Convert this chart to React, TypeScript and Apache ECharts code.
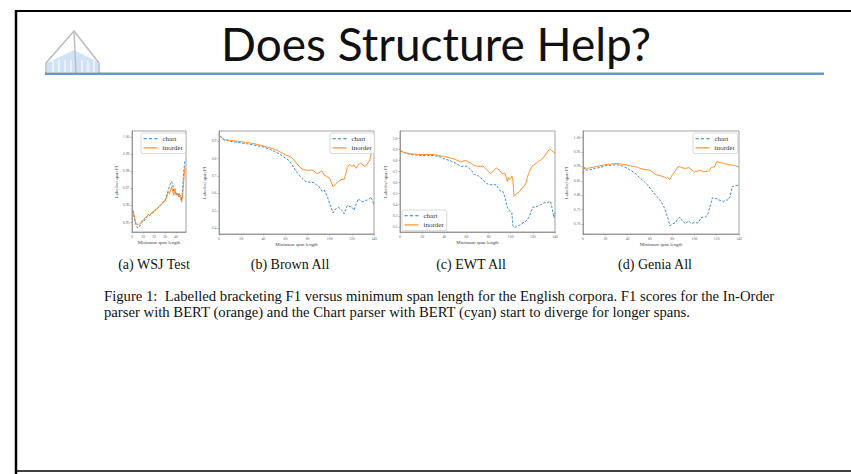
import React, { useEffect, useRef } from "react";
import * as echarts from "echarts";

// ---------- data ----------
const wsjX = [1, 2, 3, 4, 5, 6, 7, 8, 9, 10, 11, 12, 13, 14, 15, 16, 17, 18, 19, 20, 21, 22, 23, 24, 25, 26, 27, 28, 29, 30, 31, 32, 33, 34, 35, 36, 37, 38, 39, 40, 41, 42, 43, 44, 45, 46, 47, 48];
const wsjChart = [0.957, 0.953, 0.95, 0.948, 0.947, 0.947, 0.948, 0.949, 0.95, 0.951, 0.951, 0.952, 0.953, 0.954, 0.954, 0.954, 0.955, 0.955, 0.956, 0.956, 0.957, 0.958, 0.958, 0.959, 0.959, 0.96, 0.961, 0.962, 0.962, 0.963, 0.965, 0.967, 0.969, 0.971, 0.973, 0.974, 0.972, 0.968, 0.967, 0.968, 0.966, 0.967, 0.965, 0.966, 0.963, 0.97, 0.98, 0.986];
const wsjInorder = [0.957, 0.954, 0.951, 0.949, 0.949, 0.949, 0.949, 0.95, 0.951, 0.951, 0.952, 0.953, 0.953, 0.954, 0.955, 0.954, 0.955, 0.956, 0.956, 0.957, 0.957, 0.958, 0.958, 0.959, 0.96, 0.96, 0.961, 0.962, 0.962, 0.963, 0.964, 0.966, 0.968, 0.967, 0.969, 0.971, 0.968, 0.966, 0.97, 0.966, 0.967, 0.965, 0.967, 0.964, 0.962, 0.966, 0.975, 0.982];

const brownX = [1, 3, 5, 8, 10, 15, 20, 25, 30, 35, 40, 45, 50, 55, 60, 63, 65, 68, 70, 73, 75, 78, 80, 83, 85, 88, 90, 93, 95, 98, 100, 103, 105, 108, 110, 112, 113, 116, 118, 120, 122, 124, 126, 128, 130, 132, 134, 136, 137, 138, 140];
const brownChart = [0.93, 0.915, 0.906, 0.903, 0.9, 0.895, 0.89, 0.886, 0.88, 0.874, 0.867, 0.856, 0.842, 0.826, 0.803, 0.79, 0.774, 0.745, 0.726, 0.7, 0.687, 0.67, 0.667, 0.662, 0.664, 0.65, 0.642, 0.613, 0.619, 0.58, 0.541, 0.489, 0.51, 0.52, 0.51, 0.497, 0.483, 0.532, 0.525, 0.522, 0.503, 0.54, 0.57, 0.555, 0.552, 0.56, 0.562, 0.57, 0.58, 0.565, 0.537];
const brownInorder = [0.932, 0.918, 0.91, 0.907, 0.905, 0.901, 0.898, 0.893, 0.888, 0.881, 0.873, 0.864, 0.855, 0.84, 0.822, 0.814, 0.809, 0.79, 0.774, 0.752, 0.741, 0.735, 0.733, 0.734, 0.733, 0.716, 0.718, 0.729, 0.706, 0.695, 0.687, 0.638, 0.652, 0.671, 0.678, 0.683, 0.68, 0.75, 0.768, 0.755, 0.764, 0.745, 0.765, 0.774, 0.764, 0.755, 0.77, 0.788, 0.815, 0.842, 0.852];

const ewtX = [0, 2, 5, 10, 15, 20, 25, 30, 35, 40, 45, 50, 55, 58, 60, 62, 65, 67, 70, 72, 75, 78, 80, 82, 85, 87, 90, 92, 93, 95, 97, 98, 99, 100, 101, 102, 103, 105, 108, 110, 112, 114, 115, 117, 118, 120, 123, 125, 127, 130, 133, 135, 136, 137, 139, 140];
const ewtChart = [0.89, 0.877, 0.867, 0.855, 0.85, 0.846, 0.847, 0.846, 0.837, 0.816, 0.8, 0.778, 0.748, 0.75, 0.748, 0.735, 0.705, 0.674, 0.665, 0.653, 0.624, 0.594, 0.585, 0.58, 0.582, 0.58, 0.529, 0.522, 0.52, 0.461, 0.372, 0.36, 0.345, 0.333, 0.33, 0.209, 0.194, 0.2, 0.215, 0.23, 0.24, 0.253, 0.265, 0.298, 0.33, 0.378, 0.381, 0.39, 0.4, 0.416, 0.42, 0.428, 0.43, 0.387, 0.283, 0.327];
const ewtInorder = [0.896, 0.882, 0.87, 0.861, 0.857, 0.855, 0.856, 0.855, 0.846, 0.837, 0.825, 0.81, 0.787, 0.8, 0.797, 0.787, 0.772, 0.755, 0.748, 0.748, 0.751, 0.718, 0.7, 0.683, 0.713, 0.733, 0.713, 0.683, 0.68, 0.683, 0.609, 0.647, 0.63, 0.639, 0.66, 0.624, 0.476, 0.499, 0.52, 0.55, 0.564, 0.6, 0.653, 0.7, 0.727, 0.757, 0.775, 0.793, 0.805, 0.831, 0.876, 0.905, 0.9, 0.89, 0.875, 0.867];

const geniaX = [0, 1, 2, 3, 5, 10, 15, 20, 25, 30, 35, 40, 45, 48, 50, 55, 58, 60, 62, 65, 70, 73, 75, 76, 78, 80, 83, 85, 87, 89, 92, 95, 97, 100, 103, 105, 106, 108, 110, 112, 113, 115, 116, 118, 120, 123, 125, 126, 129, 130, 132, 134, 135, 137, 140];
const geniaChart = [0.876, 0.895, 0.889, 0.888, 0.887, 0.893, 0.896, 0.902, 0.904, 0.906, 0.902, 0.893, 0.881, 0.872, 0.864, 0.847, 0.836, 0.825, 0.816, 0.802, 0.779, 0.757, 0.735, 0.723, 0.695, 0.7, 0.706, 0.717, 0.725, 0.712, 0.702, 0.712, 0.702, 0.706, 0.704, 0.715, 0.723, 0.724, 0.725, 0.735, 0.748, 0.775, 0.791, 0.79, 0.788, 0.782, 0.78, 0.779, 0.785, 0.783, 0.796, 0.83, 0.831, 0.833, 0.836];
const geniaInorder = [0.876, 0.898, 0.895, 0.893, 0.894, 0.898, 0.902, 0.906, 0.908, 0.91, 0.908, 0.904, 0.9, 0.898, 0.895, 0.889, 0.888, 0.887, 0.882, 0.872, 0.867, 0.863, 0.859, 0.862, 0.855, 0.87, 0.885, 0.898, 0.899, 0.895, 0.893, 0.896, 0.89, 0.881, 0.884, 0.887, 0.885, 0.881, 0.882, 0.883, 0.885, 0.896, 0.897, 0.898, 0.917, 0.913, 0.912, 0.911, 0.907, 0.906, 0.905, 0.904, 0.904, 0.902, 0.898];

const wsjXTicks = [0, 10, 20, 30, 40];
const wideXTicks = [0, 20, 40, 60, 80, 100, 120, 140];
const wsjYTicks = [0.95, 0.96, 0.97, 0.98, 0.99, 1.0];
const brownYTicks = [0.4, 0.5, 0.6, 0.7, 0.8, 0.9];
const ewtYTicks = [0.2, 0.3, 0.4, 0.5, 0.6, 0.7, 0.8, 0.9, 1.0];
const geniaYTicks = [0.7, 0.75, 0.8, 0.85, 0.9, 0.95, 1.0];

const seriesNames = ["chart", "inorder"];
const subCaptions = ["(a) WSJ Test", "(b) Brown All", "(c) EWT All", "(d) Genia All"];
const slideTitle = "Does Structure Help?";
const captionLine1 = "Figure 1:  Labelled bracketing F1 versus minimum span length for the English corpora. F1 scores for the In-Order";
const captionLine2 = "parser with BERT (orange) and the Chart parser with BERT (cyan) start to diverge for longer spans.";
const xName = "Minimum span length";
const yName = "Labelled span F1";

// ---------- styling ----------
const BLUE = "#2a7fc0";
const ORANGE = "#ff8418";
const SERIF = "'Liberation Serif', 'DejaVu Serif', serif";
const DASH_ICON = "path://M0,0h3.2v1h-3.2z M5.2,0h3.2v1h-3.2z M10.4,0h3.2v1h-3.2z";
const SOLID_ICON = "path://M0,0h13.6v1h-13.6z";

type Panel = {
  grid: { left: number; top: number; width: number; height: number };
  xmin: number; xmax: number; xticks: number[];
  ymin: number; ymax: number; yticks: number[]; ydec: number;
  yGap: number;
  xs: number[]; a: number[]; b: number[];
  legend: { left: number; top: number };
};

const panels: Panel[] = [
  { grid: { left: 132, top: 131, width: 54, height: 101 }, xmin: 0, xmax: 49, xticks: wsjXTicks, ymin: 0.9445, ymax: 1.0035, yticks: wsjYTicks, ydec: 2, yGap: 13, xs: wsjX, a: wsjChart, b: wsjInorder, legend: { left: 141, top: 133 } },
  { grid: { left: 219, top: 131, width: 155, height: 103 }, xmin: 0, xmax: 140, xticks: wideXTicks, ymin: 0.367, ymax: 0.959, yticks: brownYTicks, ydec: 1, yGap: 12, xs: brownX, a: brownChart, b: brownInorder, legend: { left: 330, top: 133 } },
  { grid: { left: 400, top: 131, width: 155, height: 101 }, xmin: 0, xmax: 140, xticks: wideXTicks, ymin: 0.153, ymax: 1.068, yticks: ewtYTicks, ydec: 1, yGap: 12, xs: ewtX, a: ewtChart, b: ewtInorder, legend: { left: 402, top: 210 } },
  { grid: { left: 583, top: 131, width: 156, height: 103 }, xmin: 0, xmax: 140, xticks: wideXTicks, ymin: 0.666, ymax: 1.0226, yticks: geniaYTicks, ydec: 2, yGap: 14, xs: geniaX, a: geniaChart, b: geniaInorder, legend: { left: 693, top: 133 } },
];

const captionCenters = [154, 290, 471, 655];

function buildOption(): any {
  const grid: any[] = [];
  const xAxis: any[] = [];
  const yAxis: any[] = [];
  const series: any[] = [];
  const legend: any[] = [];

  panels.forEach((p, i) => {
    grid.push({ ...p.grid, show: true, borderColor: "#8a8a8a", borderWidth: 0.8, backgroundColor: "#fff" });
    xAxis.push({
      type: "value", gridIndex: i, min: p.xmin, max: p.xmax,
      name: xName, nameLocation: "middle", nameGap: 8,
      nameTextStyle: { fontSize: 4.8, fontFamily: SERIF, color: "#444" },
      axisLine: { show: true, lineStyle: { color: "#8a8a8a", width: 0.8 } },
      axisTick: { show: true, length: 1.5, customValues: p.xticks, lineStyle: { color: "#8a8a8a", width: 0.6 } },
      axisLabel: { fontSize: 3.8, fontFamily: SERIF, color: "#666", margin: 2.5, customValues: p.xticks, formatter: (v: number) => String(Math.round(v)) },
      splitLine: { show: false },
    });
    yAxis.push({
      type: "value", gridIndex: i, min: p.ymin, max: p.ymax,
      name: yName, nameLocation: "middle", nameGap: p.yGap, nameRotate: 90,
      nameTextStyle: { fontSize: 4.8, fontFamily: SERIF, color: "#444" },
      axisLine: { show: true, lineStyle: { color: "#8a8a8a", width: 0.8 } },
      axisTick: { show: true, length: 1.5, customValues: p.yticks, lineStyle: { color: "#8a8a8a", width: 0.6 } },
      axisLabel: { fontSize: 3.8, fontFamily: SERIF, color: "#666", margin: 2.5, customValues: p.yticks, formatter: (v: number) => v.toFixed(p.ydec) },
      splitLine: { show: false },
    });
    series.push({
      name: seriesNames[0], type: "line", xAxisIndex: i, yAxisIndex: i,
      data: p.xs.map((x, k) => [x, p.a[k]]),
      showSymbol: false, symbol: "none",
      lineStyle: { color: BLUE, width: 0.9, type: [2.5, 1.5] }, itemStyle: { color: BLUE },
    });
    series.push({
      name: seriesNames[1], type: "line", xAxisIndex: i, yAxisIndex: i,
      data: p.xs.map((x, k) => [x, p.b[k]]),
      showSymbol: false, symbol: "none",
      lineStyle: { color: ORANGE, width: 0.9 }, itemStyle: { color: ORANGE },
    });
    legend.push({
      data: [
        { name: seriesNames[0], icon: DASH_ICON, itemStyle: { color: BLUE } },
        { name: seriesNames[1], icon: SOLID_ICON, itemStyle: { color: ORANGE } },
      ],
      orient: "vertical", left: p.legend.left, top: p.legend.top,
      itemWidth: 14, itemHeight: 1.1, itemGap: 2.2, symbolKeepAspect: false,
      textStyle: { fontSize: 7, fontFamily: SERIF, color: "#333" },
      borderColor: "#cfcfcf", borderWidth: 0.8, borderRadius: 2, padding: [2.2, 3, 2.2, 2.5],
      backgroundColor: "rgba(255,255,255,0.85)", selectedMode: false,
    });
  });

  const graphic: any[] = [
    // slide frame
    { type: "line", shape: { x1: 15, y1: 11, x2: 851, y2: 11 }, style: { stroke: "#000", lineWidth: 2 }, silent: true },
    { type: "line", shape: { x1: 16, y1: 10, x2: 16, y2: 474 }, style: { stroke: "#000", lineWidth: 2.5 }, silent: true },
    { type: "line", shape: { x1: 15, y1: 471, x2: 851, y2: 471 }, style: { stroke: "#000", lineWidth: 1.5 }, silent: true },
    // logo
    { type: "polygon", shape: { points: [[47, 72], [47, 63], [74, 50], [98, 62], [98, 72]] }, style: { fill: "#d2e2f6" }, silent: true },
    ...[52, 58, 64, 70, 81, 87, 93].map((x) => ({ type: "rect", shape: { x, y: 60, width: 2, height: 12, r: [1, 1, 0, 0] }, style: { fill: "rgba(255,255,255,0.55)" }, silent: true })),
    { type: "polyline", shape: { points: [[46, 73], [46, 63], [74, 31], [99, 63], [99, 73]] }, style: { stroke: "#bdbdbd", lineWidth: 1.6, fill: null }, silent: true },
    { type: "line", shape: { x1: 74, y1: 31, x2: 76, y2: 73 }, style: { stroke: "#bdbdbd", lineWidth: 1.4 }, silent: true },
    // blue rule
    { type: "rect", shape: { x: 45, y: 72.5, width: 779, height: 2.6 }, style: { fill: "#6a95c8" }, silent: true },
    // title
    { type: "text", x: 436, y: 43, style: { text: slideTitle, fontSize: 46, fontFamily: "Lato, 'Open Sans', sans-serif", fill: "#111", align: "center", verticalAlign: "middle" }, silent: true },
    // sub captions
    ...subCaptions.map((t, i) => ({ type: "text", x: captionCenters[i], y: 264, style: { text: t, fontSize: 14, fontFamily: SERIF, fill: "#111", align: "center", verticalAlign: "middle" }, silent: true })),
    { type: "text", x: 104, y: 296, style: { text: captionLine1, fontSize: 14.7, fontFamily: SERIF, fill: "#111", align: "left", verticalAlign: "middle" }, silent: true },
    { type: "text", x: 104, y: 312, style: { text: captionLine2, fontSize: 14.7, fontFamily: SERIF, fill: "#111", align: "left", verticalAlign: "middle" }, silent: true },
  ];

  return { animation: false, backgroundColor: "#fff", grid, xAxis, yAxis, series, legend, graphic };
}

export default function App() {
  const ref = useRef<HTMLDivElement>(null);
  useEffect(() => {
    if (!ref.current) return;
    const chart = echarts.init(ref.current, undefined, { renderer: "svg" });
    chart.setOption(buildOption());
    return () => chart.dispose();
  }, []);
  return <div ref={ref} style={{ position: "absolute", left: 0, top: 0, width: 851, height: 474, background: "#fff" }} />;
}
